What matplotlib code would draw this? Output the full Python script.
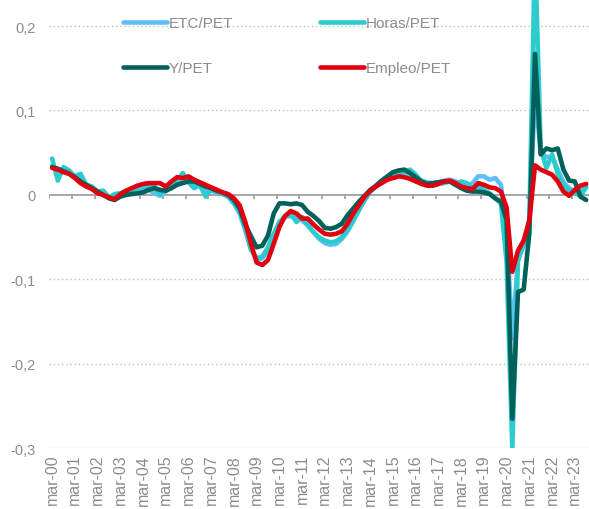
import matplotlib
matplotlib.use("Agg")
import matplotlib.pyplot as plt
import numpy as np

plt.rcParams['font.family'] = ['Liberation Sans', 'DejaVu Sans']

# trimestres mar-00 .. sep-23 (variación interanual)
years = [f"{y:02d}" for y in range(0, 24)]
tick_labels = ["mar-" + y for y in years]

etc_pet = [0.035, 0.030, 0.030, 0.027, 0.022, 0.018, 0.012, 0.008, 0.003, 0.002,
           -0.003, -0.002, 0.001, 0.003, 0.004, 0.005, 0.006, 0.006, 0.002, -0.001,
           0.004, 0.010, 0.014, 0.018, 0.017, 0.014, 0.010, 0.006, 0.005, 0.003,
           0.001, -0.002, -0.010, -0.022, -0.042, -0.064, -0.076, -0.075, -0.066, -0.050,
           -0.034, -0.026, -0.025, -0.028, -0.030, -0.036, -0.044, -0.052, -0.057, -0.059,
           -0.058, -0.052, -0.043, -0.031, -0.018, -0.006, 0.004, 0.010, 0.016, 0.020,
           0.024, 0.026, 0.026, 0.024, 0.020, 0.017, 0.015, 0.014, 0.015, 0.017,
           0.018, 0.016, 0.012, 0.011, 0.014, 0.022, 0.022, 0.018, 0.020, 0.012,
           -0.040, -0.170, -0.075, -0.060, -0.030, 0.120, 0.050, 0.045, 0.045, 0.030,
           0.015, 0.008, 0.004, 0.005, 0.010]

horas_pet = [0.043, 0.017, 0.033, 0.029, 0.022, 0.025, 0.012, 0.010, 0.004, 0.005,
             -0.003, 0.001, 0.002, 0.004, 0.006, 0.008, 0.010, 0.009, 0.010, 0.001,
             0.008, 0.014, 0.017, 0.026, 0.015, 0.008, 0.012, -0.002, 0.007, 0.004,
             0.001, -0.002, -0.010, -0.018, -0.040, -0.065, -0.075, -0.073, -0.062, -0.046,
             -0.032, -0.025, -0.022, -0.032, -0.026, -0.036, -0.044, -0.050, -0.054, -0.056,
             -0.055, -0.050, -0.042, -0.030, -0.018, -0.006, 0.004, 0.010, 0.015, 0.020,
             0.024, 0.026, 0.027, 0.030, 0.024, 0.016, 0.012, 0.011, 0.013, 0.014,
             0.016, 0.012, 0.016, 0.014, 0.008, 0.010, 0.006, 0.002, -0.004, -0.010,
             -0.080, -0.300, -0.078, -0.058, -0.030, 0.290, 0.055, 0.032, 0.048, 0.025,
             0.012, 0.005, 0.002, -0.001, 0.009]

y_pet = [0.033, 0.031, 0.028, 0.025, 0.021, 0.016, 0.012, 0.008, 0.004, 0.000,
         -0.004, -0.006, -0.002, 0.000, 0.001, 0.002, 0.003, 0.006, 0.008, 0.006,
         0.005, 0.008, 0.012, 0.014, 0.016, 0.016, 0.013, 0.010, 0.008, 0.005,
         0.003, 0.000, -0.006, -0.016, -0.035, -0.049, -0.062, -0.060, -0.048, -0.022,
         -0.010, -0.010, -0.011, -0.010, -0.012, -0.020, -0.025, -0.031, -0.039, -0.040,
         -0.038, -0.034, -0.024, -0.016, -0.008, -0.001, 0.006, 0.011, 0.017, 0.022,
         0.027, 0.029, 0.030, 0.026, 0.021, 0.016, 0.013, 0.014, 0.015, 0.016,
         0.016, 0.012, 0.008, 0.005, 0.004, 0.004, 0.003, 0.001, -0.004, -0.008,
         -0.030, -0.265, -0.115, -0.112, -0.045, 0.167, 0.048, 0.055, 0.053, 0.055,
         0.030, 0.017, 0.016, -0.002, -0.006]

empleo_pet = [0.032, 0.030, 0.027, 0.025, 0.020, 0.014, 0.010, 0.007, 0.002, 0.000,
              -0.003, -0.005, 0.001, 0.005, 0.008, 0.011, 0.013, 0.014, 0.014, 0.014,
              0.010, 0.016, 0.021, 0.020, 0.022, 0.018, 0.015, 0.012, 0.009, 0.006,
              0.003, 0.001, -0.004, -0.012, -0.032, -0.058, -0.080, -0.083, -0.077, -0.058,
              -0.038, -0.025, -0.019, -0.022, -0.028, -0.028, -0.035, -0.041, -0.046, -0.047,
              -0.046, -0.043, -0.034, -0.022, -0.012, -0.002, 0.005, 0.010, 0.014, 0.018,
              0.020, 0.022, 0.021, 0.019, 0.016, 0.013, 0.011, 0.011, 0.013, 0.016,
              0.017, 0.014, 0.010, 0.008, 0.007, 0.014, 0.012, 0.009, 0.008, 0.004,
              -0.015, -0.091, -0.066, -0.054, -0.030, 0.035, 0.030, 0.027, 0.024, 0.016,
              0.004, -0.001, 0.006, 0.011, 0.013]

series = [("ETC/PET", etc_pet, "#5ebff7"),
          ("Horas/PET", horas_pet, "#2ccbcd"),
          ("Y/PET", y_pet, "#00615b"),
          ("Empleo/PET", empleo_pet, "#e0000f")]

gray = "#8c8c8c"
n = len(etc_pet)
x = np.arange(n)

fig = plt.figure(figsize=(5.89, 5.10), dpi=100)
ax = fig.add_axes([49.3 / 589, 60.7 / 510, 1 - 49.3 / 589, 449.3 / 510])

for yv in [-0.3, -0.2, -0.1, 0.1, 0.2]:
    ax.axhline(yv, color="#bfbfbf", lw=1.0, ls=(0, (1, 2)), zorder=1)
ax.axhline(0, color="#a0a0a0", lw=1.3, zorder=1)
ax.vlines(np.arange(-0.5, n, 4), -0.005, 0, color="#a0a0a0", lw=1.3, zorder=1)

lines = {}
for name, vals, col in series:
    lines[name], = ax.plot(x, vals, color=col, lw=3.3, label=name,
                           solid_joinstyle="round", solid_capstyle="round", zorder=3)

ax.set_xlim(-0.5, n - 0.5)
ax.set_ylim(-0.3, 0.232)
ax.set_yticks([-0.3, -0.2, -0.1, 0, 0.1, 0.2])
ax.set_yticklabels(["-0,3", "-0,2", "-0,1", "0", "0,1", "0,2"])
ax.set_xticks(np.arange(0, n, 4))
ax.set_xticklabels(tick_labels, rotation=90)
ax.tick_params(axis="both", length=0, colors=gray)
ax.tick_params(axis="y", pad=10, labelsize=10.5)
ax.tick_params(axis="x", pad=4, labelsize=11.5)
for s in ax.spines.values():
    s.set_visible(False)

# legend filled row-wise: ETC, Horas / Y, Empleo
order = ["ETC/PET", "Y/PET", "Horas/PET", "Empleo/PET"]
leg = ax.legend([lines[k] for k in order], order, ncol=2, frameon=False,
                loc="upper left", bbox_to_anchor=(123 / 589, 1 - 17 / 510),
                bbox_transform=fig.transFigure, fontsize=11,
                handlelength=2.85, handletextpad=0.12, columnspacing=5.72,
                labelspacing=2.05, borderaxespad=0, borderpad=0)
for t in leg.get_texts():
    t.set_color(gray)

fig.savefig("out.png", dpi=100)
